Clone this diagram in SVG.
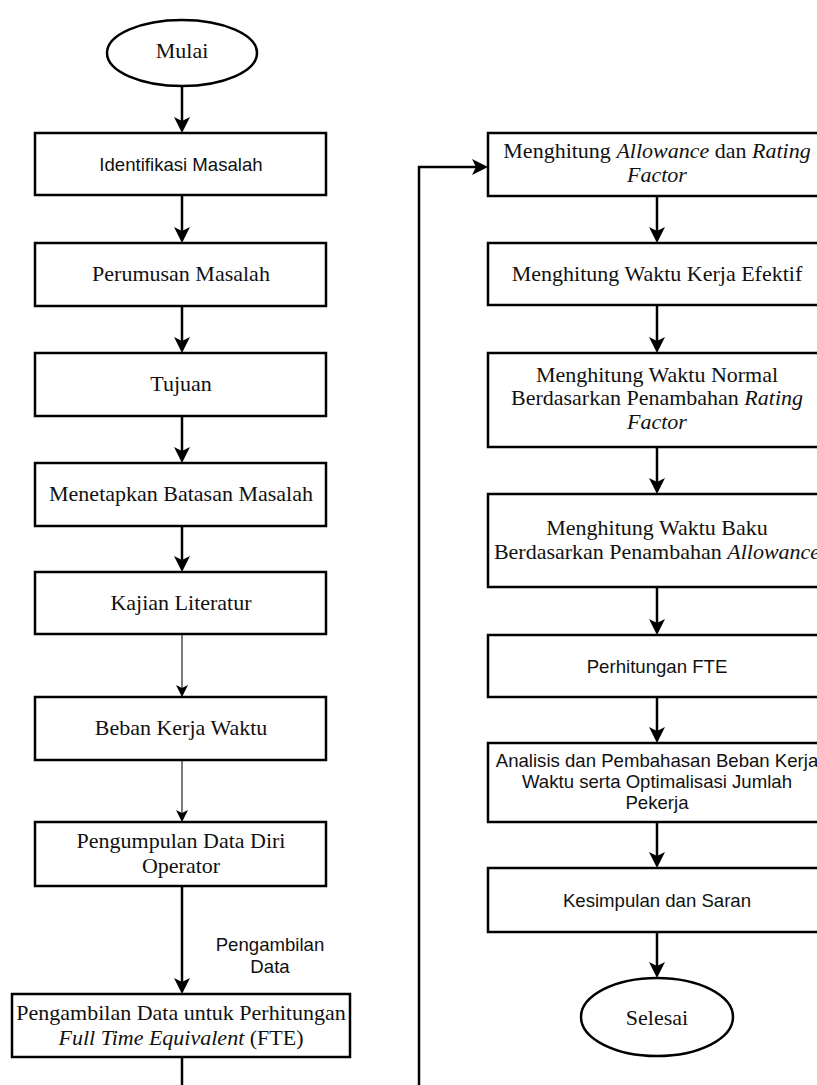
<svg xmlns="http://www.w3.org/2000/svg" width="817" height="1085" viewBox="0 0 817 1085">
<defs>
<style>
.box{fill:#fff;stroke:#000;stroke-width:2.5}
.serif{font-family:"Liberation Serif","Times New Roman",serif;font-size:22px;fill:#111;text-anchor:middle}
.sans{font-family:"Liberation Sans",Arial,sans-serif;font-size:18.6px;fill:#111;text-anchor:middle}
.it{font-style:italic}
.c{fill:none;stroke:#000;stroke-width:2.5}
.thin{fill:none;stroke:#222;stroke-width:1.2}
</style>
<marker id="ah" markerUnits="userSpaceOnUse" markerWidth="18" markerHeight="18" viewBox="0 0 18 18" refX="13" refY="9" orient="auto">
<path d="M1,1 L17,9 L1,17 L5,9 Z" fill="#000"/>
</marker>
<marker id="ahs" markerUnits="userSpaceOnUse" markerWidth="14" markerHeight="14" viewBox="0 0 14 14" refX="10" refY="7" orient="auto">
<path d="M1,1 L13,7 L1,13 L4,7 Z" fill="#000"/>
</marker>
</defs>
<rect width="817" height="1085" fill="#fff"/>

<g id="connectors">
<path class="c" d="M182,86 V129" marker-end="url(#ah)"/>
<path class="c" d="M182,195 V239" marker-end="url(#ah)"/>
<path class="c" d="M182,306 V349" marker-end="url(#ah)"/>
<path class="c" d="M182,416 V459" marker-end="url(#ah)"/>
<path class="c" d="M182,526 V568" marker-end="url(#ah)"/>
<path class="thin" d="M182,634 V694" marker-end="url(#ahs)"/>
<path class="thin" d="M182,760 V819" marker-end="url(#ahs)"/>
<path class="c" d="M182,886 V990" marker-end="url(#ah)"/>
<path class="c" d="M182,1057 V1085"/>
<path class="c" d="M419,1085 V167 H484" marker-end="url(#ah)"/>
<path class="c" d="M657,196 V239" marker-end="url(#ah)"/>
<path class="c" d="M657,305 V349" marker-end="url(#ah)"/>
<path class="c" d="M657,447 V490" marker-end="url(#ah)"/>
<path class="c" d="M657,587 V631" marker-end="url(#ah)"/>
<path class="c" d="M657,697 V739" marker-end="url(#ah)"/>
<path class="c" d="M657,822 V864" marker-end="url(#ah)"/>
<path class="c" d="M657,932 V974" marker-end="url(#ah)"/>
<text class="sans" x="270" y="951">Pengambilan</text>
<text class="sans" x="270" y="973">Data</text>
</g>

<g id="mulai">
<ellipse cx="182" cy="53" rx="75" ry="33" fill="#fff" stroke="#000" stroke-width="2.5"/>
<text class="serif" x="182" y="58">Mulai</text>
</g>
<g id="identifikasi">
<rect class="box" x="35" y="133" width="291" height="62"/>
<text class="sans" x="181" y="171">Identifikasi Masalah</text>
</g>
<g id="perumusan">
<rect class="box" x="35" y="243" width="291" height="63"/>
<text class="serif" x="181" y="281">Perumusan Masalah</text>
</g>
<g id="tujuan">
<rect class="box" x="35" y="353" width="291" height="63"/>
<text class="serif" x="181" y="391">Tujuan</text>
</g>
<g id="batasan">
<rect class="box" x="35" y="463" width="291" height="63"/>
<text class="serif" x="181" y="501">Menetapkan Batasan Masalah</text>
</g>
<g id="kajian">
<rect class="box" x="35" y="572" width="291" height="62"/>
<text class="serif" x="181" y="610">Kajian Literatur</text>
</g>
<g id="beban">
<rect class="box" x="35" y="697" width="291" height="63"/>
<text class="serif" x="181" y="735">Beban Kerja Waktu</text>
</g>
<g id="pengumpulan">
<rect class="box" x="35" y="822" width="291" height="64"/>
<text class="serif" x="181" y="848">Pengumpulan Data Diri</text>
<text class="serif" x="181" y="873">Operator</text>
</g>
<g id="pengambilan">
<rect class="box" x="12" y="994" width="338" height="63"/>
<text class="serif" x="181" y="1020">Pengambilan Data untuk Perhitungan</text>
<text class="serif" x="181" y="1045"><tspan class="it">Full Time Equivalent</tspan> (FTE)</text>
</g>

<g id="allowance">
<rect class="box" x="488" y="133" width="340" height="63"/>
<text class="serif" x="657" y="158">Menghitung <tspan class="it">Allowance</tspan> dan <tspan class="it">Rating</tspan></text>
<text class="serif it" x="657" y="182">Factor</text>
</g>
<g id="efektif">
<rect class="box" x="488" y="243" width="340" height="62"/>
<text class="serif" x="657" y="281">Menghitung Waktu Kerja Efektif</text>
</g>
<g id="normal">
<rect class="box" x="488" y="353" width="340" height="94"/>
<text class="serif" x="657" y="382">Menghitung Waktu Normal</text>
<text class="serif" x="657" y="405">Berdasarkan Penambahan <tspan class="it">Rating</tspan></text>
<text class="serif it" x="657" y="429">Factor</text>
</g>
<g id="baku">
<rect class="box" x="488" y="494" width="340" height="93"/>
<text class="serif" x="657" y="535">Menghitung Waktu Baku</text>
<text class="serif" x="657" y="559">Berdasarkan Penambahan <tspan class="it">Allowance</tspan></text>
</g>
<g id="fte">
<rect class="box" x="488" y="635" width="340" height="62"/>
<text class="sans" x="657" y="673">Perhitungan FTE</text>
</g>
<g id="analisis">
<rect class="box" x="488" y="743" width="340" height="79"/>
<text class="sans" x="657" y="767">Analisis dan Pembahasan Beban Kerja</text>
<text class="sans" x="657" y="788">Waktu serta Optimalisasi Jumlah</text>
<text class="sans" x="657" y="809">Pekerja</text>
</g>
<g id="kesimpulan">
<rect class="box" x="488" y="868" width="340" height="64"/>
<text class="sans" x="657" y="907">Kesimpulan dan Saran</text>
</g>
<g id="selesai">
<ellipse cx="657" cy="1017" rx="76" ry="39" fill="#fff" stroke="#000" stroke-width="2.5"/>
<text class="serif" x="657" y="1025">Selesai</text>
</g>
</svg>
